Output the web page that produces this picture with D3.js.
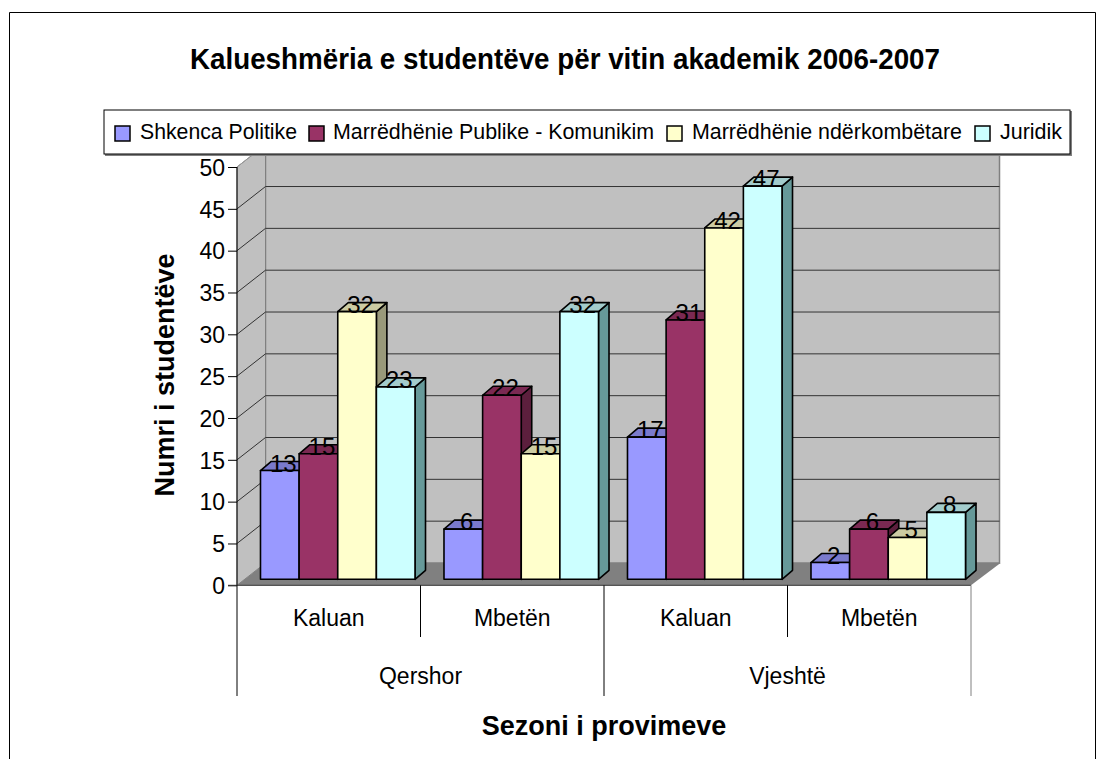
<!DOCTYPE html>
<html lang="en">
<head>
  <meta charset="UTF-8">
  <title>Kalueshmëria e studentëve</title>
  <script src="https://d3js.org/d3.v7.min.js"></script>
  <style>
    body { margin: 0; background: #fff; }
    svg { display: block; }
    text { font-family: "Liberation Sans", Arial, sans-serif; fill: #000; }
  </style>
</head>
<body>
  <svg width="1105" height="759"></svg>

  <script>
    // Data
    const seasons = ["Qershor", "Vjeshtë"];
    const outcomes = ["Kaluan", "Mbetën", "Kaluan", "Mbetën"];
    const seriesNames = ["Shkenca Politike", "Marrëdhënie Publike - Komunikim", "Marrëdhënie ndërkombëtare", "Juridik"];
    const shkencaPolitike = [13, 6, 17, 2];
    const marredhenieePublike = [15, 22, 31, 6];
    const marredhenieNderkombetare = [32, 15, 42, 5];
    const juridik = [23, 32, 47, 8];
    const yTicks = [0, 5, 10, 15, 20, 25, 30, 35, 40, 45, 50];

    const seriesValues = [shkencaPolitike, marredhenieePublike, marredhenieNderkombetare, juridik];
    const front = ["#9999ff", "#993366", "#ffffcc", "#ccffff"];
    const topFace = ["#7a7acc", "#7a2952", "#cccca3", "#a3cccc"];
    const sideFace = ["#5c5c99", "#5c1f3d", "#99997a", "#669999"];

    const svg = d3.select("svg");

    // chart frame, open at the bottom
    svg.append("path")
      .attr("d", "M9.5,759V12.5H1095.5V759")
      .attr("fill", "none")
      .attr("stroke", "#000");

    // 3D offsets of the wall and of the bars
    const wallDx = 28.5, wallDy = -22.3;
    const barDx = 9, barDy = -6, depthDx = 10.5, depthDy = -9;

    const y = d3.scaleLinear().domain([0, 50]).range([585.3, 167]);
    const x0 = d3.scaleBand().domain(d3.range(4)).range([237, 971]);
    const x1 = d3.scaleBand().domain(d3.range(4)).range([0, x0.bandwidth()]).paddingOuter(0.375).paddingInner(0);

    // back wall, side wall and floor
    svg.append("rect")
      .attr("x", 237 + wallDx).attr("y", y(50) + wallDy)
      .attr("width", 971 - 237).attr("height", y(0) - y(50))
      .attr("fill", "#c0c0c0").attr("stroke", "#808080").attr("stroke-width", 1.5);
    svg.append("path")
      .attr("d", `M237,${y(0)}V${y(50)}l${wallDx},${wallDy}V${y(0) + wallDy}Z`)
      .attr("fill", "#c0c0c0").attr("stroke", "#808080");
    svg.append("path")
      .attr("d", `M237,${y(0)}H971l${wallDx + 1},${wallDy}H${237 + wallDx}Z`)
      .attr("fill", "#808080");

    // gridlines along the wall and the side wall
    yTicks.slice(1, -1).forEach(t => {
      svg.append("path")
        .attr("d", `M237,${y(t)}l${wallDx},${wallDy}H${971 + wallDx}`)
        .attr("fill", "none").attr("stroke", "#333").attr("stroke-width", 1);
    });
    svg.append("path")
      .attr("d", `M237,${y(50)}l${wallDx},${wallDy}`)
      .attr("stroke", "#999").attr("stroke-width", 1);

    // bars, drawn as front + top + side faces
    const groups = svg.selectAll(".group")
      .data(d3.range(4))
      .enter().append("g")
      .attr("class", "group")
      .attr("transform", d => `translate(${x0(d) + barDx},${barDy})`);

    const faceStroke = g => g.attr("stroke", "#000").attr("stroke-width", 1.6).attr("stroke-linejoin", "round");

    groups.each(function (g) {
      const sel = d3.select(this);
      const w = x1.bandwidth();
      seriesValues.forEach((vals, s) => {
        const bx = x1(s), by = y(vals[g]), h = y(0) - by;
        sel.append("path")
          .attr("d", `M${bx + w},${by}l${depthDx},${depthDy}v${h}l${-depthDx},${-depthDy}Z`)
          .attr("fill", sideFace[s]).call(faceStroke);
        sel.append("path")
          .attr("d", `M${bx},${by}l${depthDx},${depthDy}h${w}l${-depthDx},${-depthDy}Z`)
          .attr("fill", topFace[s]).call(faceStroke);
        sel.append("rect")
          .attr("x", bx).attr("y", by).attr("width", w).attr("height", h)
          .attr("fill", front[s]).call(faceStroke);
      });
      seriesValues.forEach((vals, s) => {
        sel.append("text")
          .attr("x", x1(s) + w / 2 + 3.5)
          .attr("y", y(vals[g]) + 1)
          .attr("text-anchor", "middle")
          .style("font-size", "24px")
          .text(vals[g]);
      });
    });

    // value axis
    const yAxis = svg.append("g")
      .attr("transform", "translate(237,0)")
      .call(d3.axisLeft(y).tickValues(yTicks).tickSize(9).tickPadding(3));
    yAxis.selectAll("text").style("font-size", "23px").attr("dy", "0.36em");
    yAxis.selectAll("line").attr("stroke", "#000");
    yAxis.select(".domain").attr("stroke", "#000").attr("d", `M0,${y(0)}V${y(50)}`);

    // floor front edge
    svg.append("line")
      .attr("x1", 228).attr("x2", 971).attr("y1", y(0)).attr("y2", y(0))
      .attr("stroke", "#333").attr("stroke-width", 1);

    // two level category axis
    x0.domain().forEach(i => {
      svg.append("text")
        .attr("x", x0(i) + x0.bandwidth() / 2).attr("y", 626)
        .attr("text-anchor", "middle")
        .style("font-size", "23px")
        .text(outcomes[i]);
    });
    [0, 1, 2, 3, 4].forEach(i => {
      const lx = 237 + i * x0.bandwidth();
      svg.append("line")
        .attr("x1", lx).attr("x2", lx)
        .attr("y1", y(0)).attr("y2", i % 2 ? 637 : 696)
        .attr("stroke", i === 4 ? "#808080" : "#000");
    });
    seasons.forEach((name, i) => {
      svg.append("text")
        .attr("x", x0(i * 2) + x0.bandwidth()).attr("y", 684)
        .attr("text-anchor", "middle")
        .style("font-size", "23px")
        .text(name);
    });

    // titles
    svg.append("text")
      .attr("x", 565).attr("y", 69)
      .attr("text-anchor", "middle")
      .attr("textLength", 750).attr("lengthAdjust", "spacingAndGlyphs")
      .style("font-size", "29px").style("font-weight", "bold")
      .text("Kalueshmëria e studentëve për vitin akademik 2006-2007");
    svg.append("text")
      .attr("x", 604).attr("y", 735)
      .attr("text-anchor", "middle")
      .style("font-size", "27px").style("font-weight", "bold")
      .text("Sezoni i provimeve");
    svg.append("text")
      .attr("transform", "translate(174,375) rotate(-90)")
      .attr("text-anchor", "middle")
      .style("font-size", "27px").style("font-weight", "bold")
      .text("Numri i studentëve");

    // legend
    svg.append("rect")
      .attr("x", 105).attr("y", 111).attr("width", 967).attr("height", 45)
      .attr("fill", "#808080");
    svg.append("rect")
      .attr("x", 104).attr("y", 110).attr("width", 966).attr("height", 44)
      .attr("fill", "#fff").attr("stroke", "#000");
    const legendSwatch = [115, 309, 667, 975];
    const legendText = [140, 333, 692, 1000];
    const legendWidth = [157, 321, 270, 62];
    seriesNames.forEach((name, i) => {
      svg.append("rect")
        .attr("x", legendSwatch[i]).attr("y", 126).attr("width", 15).attr("height", 15)
        .attr("fill", front[i]).attr("stroke", "#000").attr("stroke-width", 1.5);
      svg.append("text")
        .attr("x", legendText[i]).attr("y", 139)
        .attr("textLength", legendWidth[i]).attr("lengthAdjust", "spacingAndGlyphs")
        .style("font-size", "22px")
        .text(name);
    });
  </script>
</body>
</html>
